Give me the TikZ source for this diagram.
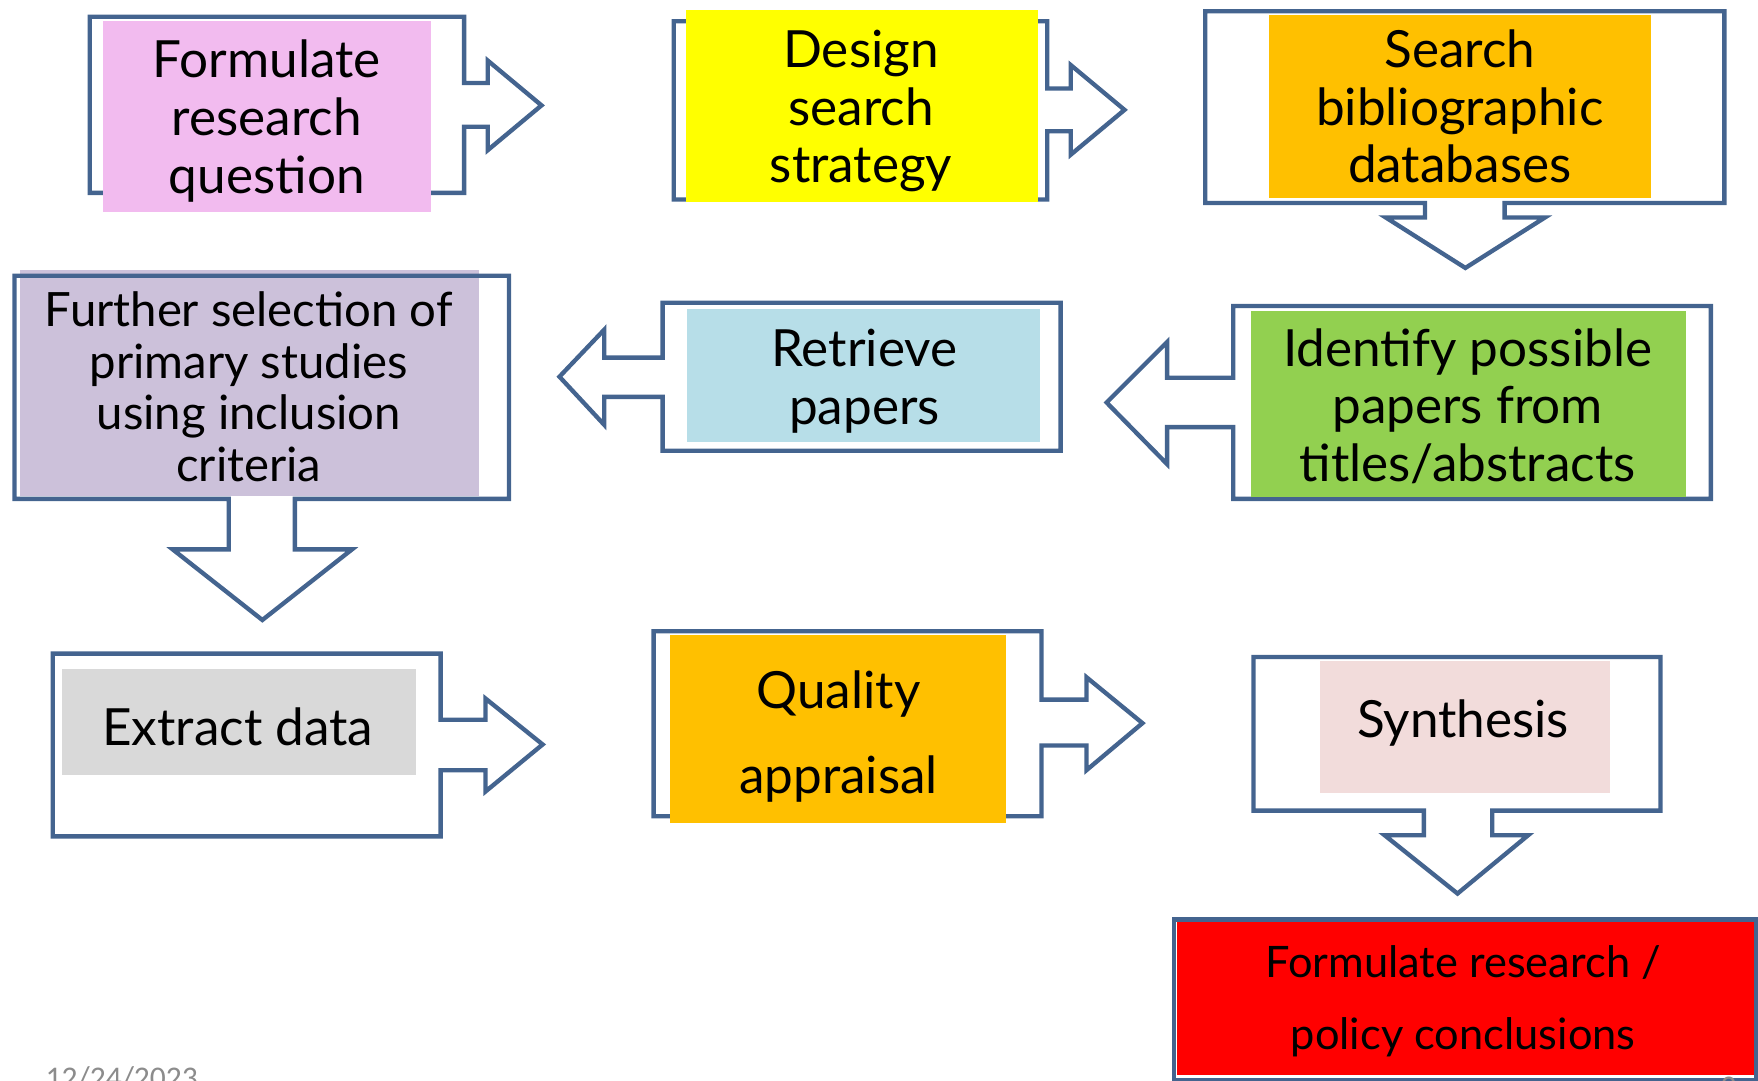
\documentclass[tikz,border=0pt]{standalone}
\usepackage{fontspec}
\setmainfont{Lato}
\newfontfamily\footfont{Carlito}
\usepackage{tikz}
\definecolor{outl}{HTML}{44648F}
\definecolor{pinkA}{HTML}{F2BBEF}
\definecolor{yell}{HTML}{FFFF00}
\definecolor{oran}{HTML}{FFC000}
\definecolor{lilac}{HTML}{CCC1DA}
\definecolor{sky}{HTML}{B7DEE8}
\definecolor{leaf}{HTML}{92D050}
\definecolor{ash}{HTML}{D9D9D9}
\definecolor{rose}{HTML}{F2DCDB}
\definecolor{alarm}{HTML}{FF0000}
\definecolor{footgray}{HTML}{8C8C8C}

\begin{document}
\begin{tikzpicture}[x=0.01cm,y=-0.01cm]
\tikzstyle{every node}+=[inner sep=0pt]
\tikzstyle{callout}=[draw=outl, line width=1.1pt, fill=white]
\tikzstyle{lbl}=[align=center, font=\fontsize{13}{14.6}\selectfont]
\useasboundingbox (0,0) rectangle (1568,964);
\clip (0,0) rectangle (1568,964);
% row 1
\draw [callout] (80,15) -- (414,15) -- (414,74) -- (435,74) -- (435,54) -- (483,94) -- (435,134) -- (435,113) -- (414,113) -- (414,172) -- (80,172) -- cycle;
\fill [pinkA] (92,19) rectangle (384,189);
\draw (238,108) node [lbl] (formq) {Formulate\\research\\question};
\draw [callout] (601,19) -- (934,19) -- (934,79) -- (955,79) -- (955,58) -- (1003,98) -- (955,138) -- (955,117) -- (934,117) -- (934,178) -- (601,178) -- cycle;
\fill [yell] (612,9) rectangle (926,180);
\draw (768,99) node [lbl] (design) {Design\\search\\strategy};
\draw [callout] (1075,10) -- (1538,10) -- (1538,181) -- (1342,181) -- (1342,194) -- (1378,194) -- (1307,239) -- (1236,194) -- (1271,194) -- (1271,181) -- (1075,181) -- cycle;
\fill [oran] (1132,13) rectangle (1473,177);
\draw (1302,95) node [lbl] (search) {Search\\bibliographic\\databases};
% row 2
\fill [lilac] (18,241) rectangle (427,442);
\draw [callout, fill=none] (13,246) -- (454,246) -- (454,445) -- (263,445) -- (263,490) -- (314,490) -- (234,553) -- (154,490) -- (204,490) -- (204,445) -- (13,445) -- cycle;
\draw (222,345) node [lbl, font=\fontsize{12}{13.1}\selectfont] (select) {Further selection of\\primary studies\\using inclusion\\criteria};
\draw [callout] (591,270) -- (946,270) -- (946,402) -- (591,402) -- (591,354) -- (539,354) -- (539,379) -- (499,336) -- (539,294) -- (539,319) -- (591,319) -- cycle;
\fill [sky] (613,276) rectangle (928,394);
\draw (771,340) node [lbl] (retrieve) {Retrieve\\papers};
\draw [callout] (1100,273) -- (1526,273) -- (1526,445) -- (1100,445) -- (1100,381) -- (1041,381) -- (1041,414) -- (987,359) -- (1041,305) -- (1041,337) -- (1100,337) -- cycle;
\fill [leaf] (1116,277) rectangle (1504,443);
\draw (1309,362) node [lbl] (identify) {Identify possible\\papers from\\titles/abstracts};
% row 3
\draw [callout] (47,583) -- (393,583) -- (393,642) -- (433,642) -- (433,623) -- (484,664) -- (433,706) -- (433,687) -- (393,687) -- (393,746) -- (47,746) -- cycle;
\fill [ash] (55,597) rectangle (371,691);
\draw (212,648) node [lbl] (extract) {Extract data};
\draw [callout] (583,563) -- (929,563) -- (929,624) -- (969,624) -- (969,604) -- (1019,645) -- (969,687) -- (969,665) -- (929,665) -- (929,728) -- (583,728) -- cycle;
\fill [oran] (598,566) rectangle (897,734);
\draw (748,657) node [lbl, font=\fontsize{13}{21.6}\selectfont] (quality) {Quality\\appraisal};
\draw [callout] (1118,586) -- (1481,586) -- (1481,723) -- (1331,723) -- (1331,745) -- (1363,745) -- (1300,797) -- (1235,745) -- (1270,745) -- (1270,723) -- (1118,723) -- cycle;
\fill [rose] (1177,590) rectangle (1436,707);
\draw (1305,645) node [lbl] (synth) {Synthesis};
% last box, runs off the page
\draw [callout] (1047,820) rectangle (1566,963);
\fill [alarm] (1050,822) rectangle (1564,959);
\draw (1305,893) node [lbl, font=\fontsize{11}{18.4}\selectfont] (concl) {Formulate research /\\policy conclusions};
% footer
\draw (40,971) node [anchor=base west, font=\footfont\fontsize{8}{9}\selectfont, text=footgray] (date) {12/24/2023};
\draw (1534,979) node [anchor=base west, font=\footfont\fontsize{8}{9}\selectfont, text=footgray] (pagenum) {2};
\end{tikzpicture}
\end{document}
